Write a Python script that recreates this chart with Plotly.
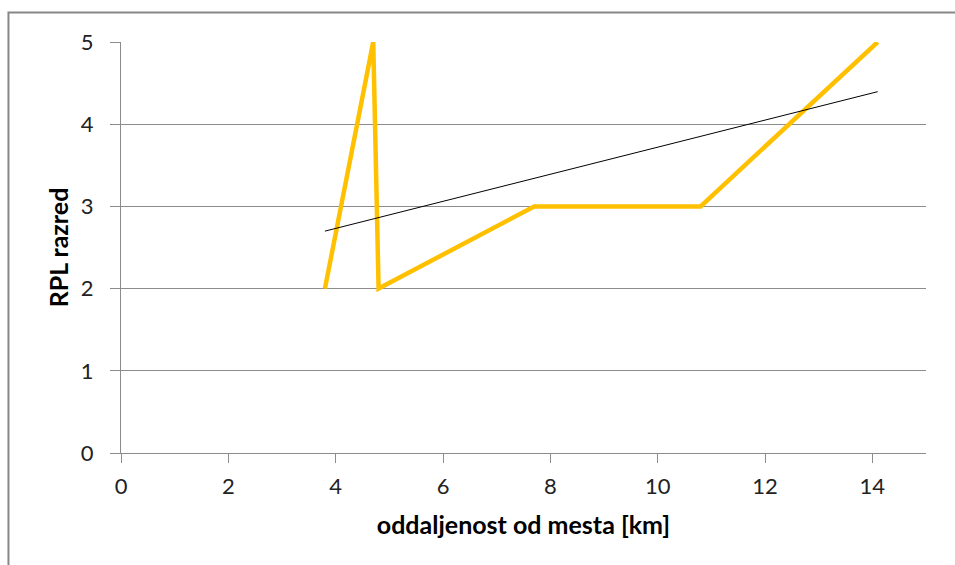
import numpy as np
import plotly.graph_objects as go

# data
distance_km = [3.8, 4.7, 4.8, 7.7, 10.8, 14.1]
rpl_class = [2, 5, 2, 3, 3, 5]
x_ticks = [0, 2, 4, 6, 8, 10, 12, 14]
y_ticks = [0, 1, 2, 3, 4, 5]

# linear trendline (least squares)
slope, intercept = np.polyfit(distance_km, rpl_class, 1)
trend_x = [min(distance_km), max(distance_km)]
trend_y = [slope * v + intercept for v in trend_x]

grid = "#8c8c8c"
font = "Lato"

fig = go.Figure()
fig.add_trace(go.Scatter(x=distance_km, y=rpl_class, mode="lines",
                         line=dict(color="#FFC000", width=4.5), showlegend=False))
fig.add_trace(go.Scatter(x=trend_x, y=trend_y, mode="lines",
                         line=dict(color="#000000", width=1), showlegend=False))

fig.update_layout(
    width=955, height=565,
    margin=dict(l=121, r=29, t=42, b=112),
    paper_bgcolor="white", plot_bgcolor="white",
    font=dict(family=font, size=22, color="#000000"),
    xaxis=dict(range=[0, 15], tickvals=x_ticks, showgrid=False, zeroline=False,
               showline=True, linecolor=grid, linewidth=1,
               ticks="outside", ticklen=9, tickcolor=grid,
               tickfont=dict(size=22, color="#222222"), ticklabelstandoff=5,
               title=dict(text="<b>oddaljenost od mesta [km]</b>", font=dict(size=25), standoff=18)),
    yaxis=dict(range=[0, 5], tickvals=y_ticks, showgrid=True, gridcolor=grid, gridwidth=1,
               zeroline=False, showline=True, linecolor=grid, linewidth=1,
               ticks="outside", ticklen=10, tickcolor=grid,
               tickfont=dict(size=22, color="#222222"), ticklabelstandoff=12,
               title=dict(text="<b>RPL razred</b>", font=dict(size=25), standoff=5)),
    shapes=[dict(type="rect", xref="paper", yref="paper",
                 x0=-0.1398, x1=1.2, y0=-0.5, y1=1.0718,
                 line=dict(color="#878787", width=2), layer="below")],
)

fig.write_html("out.html")
